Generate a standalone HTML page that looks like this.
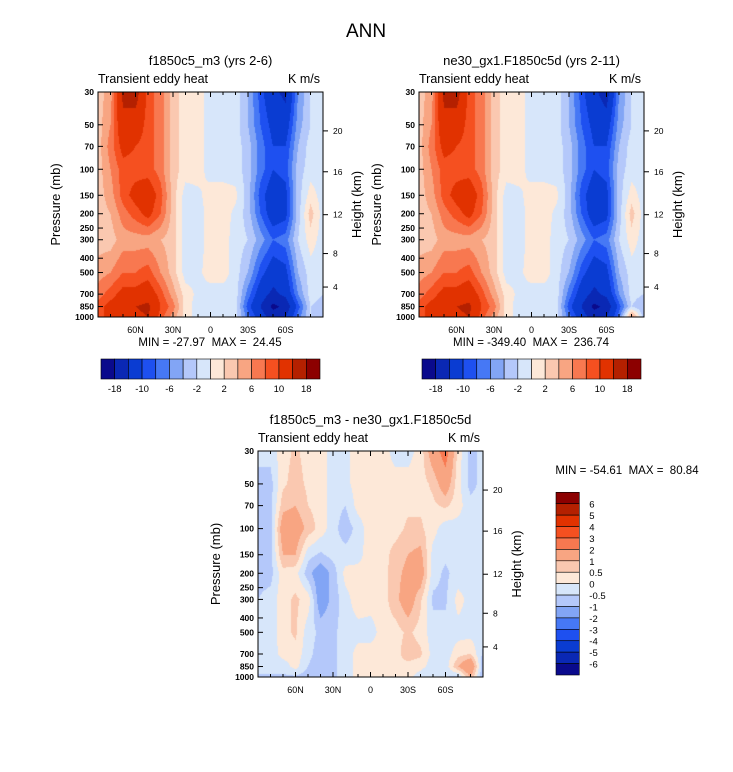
<!DOCTYPE html>
<html><head><meta charset="utf-8">
<style>
body{margin:0;background:#fff;font-family:"Liberation Sans",sans-serif;}
#wrap{position:relative;width:733px;height:772px;overflow:hidden;background:#fff}
canvas{position:absolute}
svg{position:absolute;left:0;top:0}
svg text{white-space:pre}
</style></head><body>
<div id="wrap">
<canvas id="c1" width="225" height="225" style="left:98px;top:92px"></canvas>
<canvas id="c2" width="225" height="225" style="left:419px;top:92px"></canvas>
<canvas id="c3" width="225" height="226" style="left:258px;top:451px"></canvas>
<svg id="svg" width="733" height="772"></svg>
</div>
<script>
const lats=[90,80,70,60,50,40,30,20,10,0,-10,-20,-30,-40,-50,-60,-70,-80,-90];
const pres=[30,50,70,100,150,200,300,500,700,850,1000];
const pTicks=[30,50,70,100,150,200,250,300,400,500,700,850,1000];
const latTicks=[60,30,0,-30,-60];
const latTickLabels=["60N","30N","0","30S","60S"];
const hTicks=[20,16,12,8,4];
const hTickP=[55,104,203,372,627];
const levels1=[-18,-14,-10,-8,-6,-4,-2,0,2,4,6,8,10,14,18];
const cbLabels1=["-18","-10","-6","-2","2","6","10","18"];
const levels3=[-6,-5,-4,-3,-2,-1,-0.5,0,0.5,1,2,3,4,5,6];
const cbLabels3=["6","5","4","3","2","1","0.5","0","-0.5","-1","-2","-3","-4","-5","-6"];
const colors=["#0a0a8c","#0a28b4","#0a3cd2","#1e50f0","#4678f5","#82a5f5","#b4c8fa","#d7e6fa","#fde8d8","#fac8b0","#f8a582","#f87850","#f55020","#e13200","#b42000","#8c0000"];
// rows = pressure levels (pres), cols = lats
const data1=[
[3,5,15,16,9,7,3,1,1,-1,-1,-1,-4,-9,-13,-15,-6,-2,-1],
[3,6,13,12,9,7,3,1,1,-1,-1,-1,-4,-8,-11,-12,-5,-2,-1],
[3,7,11,10,9,7,3,1,1,-1,-1,-1,-3,-7,-10,-10,-4,-1,-1],
[3,6,9,9,9,7,3,1,1,-1,-1,-1,-3,-7,-10,-9,-3,-1,-1],
[3,5,9,11,12,9,3,-1,-0.5,1,1,0.5,-3,-9,-12,-11,-3,1,-1],
[3,4,7,9,11,8,3,-1,-1,1,1,-0.5,-3,-8,-12,-11,-3,3,-1],
[3,3,5,5,5,4,3,-1,-1,1,1,-1,-2,-5,-8,-7,-2,1,-1],
[5,6,8,8,9,6,3,-1,-0.5,1,1,-1,-4,-9,-12,-11,-4,-1,-1],
[7,9,11,11,12,9,5,1,-0.5,-1,-1,-1,-7,-12,-15,-13,-6,-1,-2],
[9,11,12,14,15,10,7,1,-1,-1,-1,-1,-9,-14,-19,-17,-9,-2,-3],
[9,11,11,13,14,9,5,1,-1,-1,-1,-1,-7,-12,-16,-14,-7,-2,-3]];
const data2=[
[3,5,15,16,9,7,3,1,1,-1,-1,-1,-4,-9,-13,-16,-6,-2,-1],
[3,6,13,12,9,7,3,1,1,-1,-1,-1,-4,-8,-11,-12,-5,-2,-1],
[3,7,11,10,9,7,3,1,1,-1,-1,-1,-3,-7,-10,-10,-4,-1,-1],
[3,6,9,9,9,7,3,1,1,-1,-1,-1,-3,-7,-10,-9,-3,-1,-1],
[3,5,9,11,12,9,3,-1,-0.5,1,1,0.5,-3,-9,-12,-11,-3,1,-1],
[3,4,7,9,11,8,3,-1,-1,1,1,-0.5,-3,-8,-12,-11,-3,3,-1],
[3,3,5,5,5,4,3,-1,-1,1,1,-1,-2,-5,-8,-7,-2,1,-1],
[5,6,8,8,9,6,3,-1,-0.5,1,1,-1,-4,-9,-12,-11,-4,-1,-1],
[7,9,11,11,12,9,5,1,-0.5,-1,-1,-1,-7,-12,-15,-13,-6,-1,-2],
[9,11,12,14,15,10,7,1,-1,-1,-1,-1,-9,-14,-19,-17,-9,-2,-4],
[9,11,11,13,14,9,5,1,-1,-1,-1,-1,-7,-12,-16,-14,-7,6,-3]];
const data3=[
[-0.3,-0.3,0.3,0.6,0.3,0.3,-0.3,-0.2,0.3,0.3,0.2,-0.2,-0.2,0.2,1.5,2.5,0.3,-0.7,-0.3],
[-0.7,-0.7,0.4,0.7,0.4,0.3,-0.3,-0.2,0.3,0.3,0.2,0.2,0.2,0.3,0.6,1.5,0.2,-0.7,-0.3],
[-0.7,-0.7,0.8,1,0.5,0.3,-0.3,-0.5,0.2,0.3,0.2,0.3,0.4,0.4,0.4,0.6,0.2,-0.3,-0.3],
[-0.7,-0.7,1.5,1.5,0.8,0.3,-0.3,-0.8,-0.3,0.3,0.3,0.3,0.6,0.6,0.2,-0.3,-0.2,-0.3,-0.3],
[-0.7,-0.7,1,1,-0.3,-0.6,-0.3,-0.3,-0.2,0.3,0.3,0.7,1,1.2,-0.2,-0.4,-0.3,-0.3,-0.3],
[-0.7,-0.7,0.3,0.2,-0.8,-1.5,-0.8,0.2,0.2,0.3,0.3,0.8,1.2,1.5,-0.3,-0.6,-0.3,-0.3,-0.3],
[-0.5,-0.3,0.3,0.6,0.3,-1.5,-0.8,-0.2,0.3,0.3,0.3,0.8,1.5,0.6,-0.6,-0.6,0.2,-0.2,-0.3],
[-0.3,-0.3,0.3,0.6,-0.3,-0.6,-0.6,-0.3,-0.2,-0.3,0.3,0.3,0.6,0.3,-0.3,-0.3,-0.2,-0.2,-0.3],
[-0.3,-0.3,0.2,0.3,-0.3,-0.8,-0.6,-0.3,0.2,0.3,0.3,0.3,0.8,0.6,-0.2,-0.3,0.3,0.5,-0.6],
[-0.3,-0.3,-0.3,0.2,-0.5,-1,-0.6,-0.3,0.2,0.3,0.3,0.3,0.3,0.2,-0.3,-0.3,1,2,-1],
[-0.6,-0.6,-0.6,-0.6,-0.8,-1,-0.6,-0.3,0.2,0.2,0.2,0.2,0.2,-0.3,-0.5,-0.5,-0.6,1,-1]];

const L30=Math.log10(30),L1000=Math.log10(1000);
function mkAxes(x0,y0,w,h){return{
 x:lat=>x0+(90-lat)/180*w,
 y:p=>y0+(Math.log10(p)-L30)/(L1000-L30)*h,x0,y0,w,h};}
function colorOf(v,lv){let i=0;while(i<lv.length&&v>=lv[i])i++;return colors[i];}
function sample(d,lat,lp){
 let fx=(90-lat)/10;let i=Math.min(Math.floor(fx),lats.length-2);let tx=fx-i;
 const lps=pres.map(p=>Math.log10(p));
 let j=0;while(j<lps.length-2&&lp>lps[j+1])j++;
 let ty=(lp-lps[j])/(lps[j+1]-lps[j]);ty=Math.max(0,Math.min(1,ty));
 const a=d[j][i],b=d[j][i+1],c=d[j+1][i],e=d[j+1][i+1];
 return (a*(1-tx)+b*tx)*(1-ty)+(c*(1-tx)+e*tx)*ty;}
function fill(id,d,lv){
 const cv=document.getElementById(id),ctx=cv.getContext('2d');
 const W=cv.width,H=cv.height;
 for(let py=0;py<H;py++){const lp=L30+(py+0.5)/H*(L1000-L30);
  for(let px=0;px<W;px++){const lat=90-(px+0.5)/W*180;
   ctx.fillStyle=colorOf(sample(d,lat,lp),lv);ctx.fillRect(px,py,1,1);}}}
fill('c1',data1,levels1);fill('c2',data2,levels1);fill('c3',data3,levels3);

const svg=document.getElementById('svg');const NS='http://www.w3.org/2000/svg';
function el(t,at,txt){const e=document.createElementNS(NS,t);for(const k in at)e.setAttribute(k,at[k]);if(txt!==undefined)e.textContent=txt;svg.appendChild(e);return e;}
function panel(x0,y0,w,h,title,tag){
 const A=mkAxes(x0,y0,w,h);
 let t=el('text',{x:x0+w/2,y:y0-27,'text-anchor':'middle','font-size':13},title);
 
 t=el('text',{x:x0,y:y0-9,'font-size':12.5},'Transient eddy heat');
 
 t=el('text',{x:x0+w-3,y:y0-9,'font-size':12.5,'text-anchor':'end'},'K m/s');
 
 const fr=el('rect',{x:x0,y:y0,width:w,height:h,fill:'none',stroke:'#000','stroke-width':1});
 
 for(let lat=80;lat>-90;lat-=10){const X=A.x(lat);const maj=lat%30===0;
  el('line',{x1:X,y1:y0+h,x2:X,y2:y0+h-(maj?5:3),stroke:'#000'});
  el('line',{x1:X,y1:y0,x2:X,y2:y0+(maj?5:3),stroke:'#000'});}
 latTicks.forEach((lat,i)=>{t=el('text',{x:A.x(lat),y:y0+h+16,'text-anchor':'middle','font-size':9},latTickLabels[i]);
  });
 pTicks.forEach(p=>{const Y=A.y(p);el('line',{x1:x0,y1:Y,x2:x0+5,y2:Y,stroke:'#000'});
  t=el('text',{x:x0-4,y:Y+3,'text-anchor':'end','font-size':8.5,'font-weight':'bold'},p);
  });
 hTicks.forEach((z,i)=>{const Y=A.y(hTickP[i]);el('line',{x1:x0+w,y1:Y,x2:x0+w+5,y2:Y,stroke:'#000'});
  t=el('text',{x:x0+w+10,y:Y+3,'font-size':8.5},z);
  });
 t=el('text',{x:0,y:0,'font-size':13,'text-anchor':'middle',transform:`translate(${x0-38},${y0+h/2}) rotate(-90)`},'Pressure (mb)');
 
 t=el('text',{x:0,y:0,'font-size':13,'text-anchor':'middle',transform:`translate(${x0+w+38},${y0+h/2}) rotate(-90)`},'Height (km)');
 }
let tt=el('text',{x:366,y:37,'text-anchor':'middle','font-size':19},'ANN');

panel(98,92,225,225,'f1850c5_m3 (yrs 2-6)','panel1');
panel(419,92,225,225,'ne30_gx1.F1850c5d (yrs 2-11)','panel2');
panel(258,451,225,226,'f1850c5_m3 - ne30_gx1.F1850c5d','diff');
tt=el('text',{x:210,y:346,'text-anchor':'middle','font-size':11.5},'MIN = -27.97  MAX =  24.45');

tt=el('text',{x:531,y:346,'text-anchor':'middle','font-size':11.5},'MIN = -349.40  MAX =  236.74');

tt=el('text',{x:627,y:474,'text-anchor':'middle','font-size':11.5},'MIN = -54.61  MAX =  80.84');

function hbar(x0,tag){const y0=359,w=219,h=20,bw=w/16;
 colors.forEach((c,i)=>{const r=el('rect',{x:x0+i*bw,y:y0,width:bw,height:h,fill:c,stroke:'#000','stroke-width':0.6});
  });
 cbLabels1.forEach((s,i)=>{const t=el('text',{x:x0+(1+2*i)*bw,y:y0+h+13,'text-anchor':'middle','font-size':9.5},s);
  });}
hbar(101,'panel1');hbar(422,'panel2');
(function(){const x0=556,y0=492.3,w=23.3,h=182.7,bh=h/16;
 colors.slice().reverse().forEach((c,i)=>{const r=el('rect',{x:x0,y:y0+i*bh,width:w,height:bh,fill:c,stroke:'#000','stroke-width':0.6});
  });
 cbLabels3.forEach((s,i)=>{const t=el('text',{x:x0+w+10,y:y0+(i+1)*bh+4,'font-size':9.5},s);
  });})();
</script>
</body></html>
